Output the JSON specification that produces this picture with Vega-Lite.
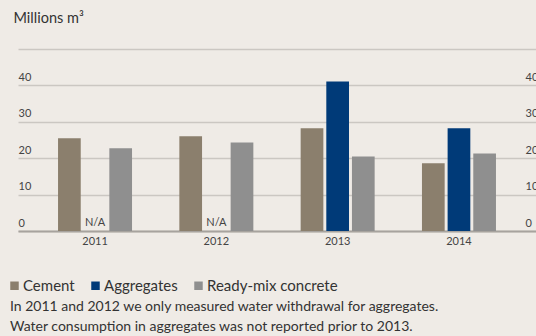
{
  "$schema": "https://vega.github.io/schema/vega-lite/v6.json",
  "width": 518,
  "height": 182,
  "autosize": {"type": "none"},
  "padding": {"left": 18, "top": 49, "right": 0, "bottom": 105},
  "background": "#efebe6",
  "config": {"view": {"stroke": null}, "font": "Lato"},
  "title": {
    "text": [
      "In 2011 and 2012 we only measured water withdrawal for aggregates.",
      "Water consumption in aggregates was not reported prior to 2013."
    ],
    "orient": "bottom",
    "anchor": "start",
    "frame": "group",
    "fontSize": 14,
    "fontWeight": "normal",
    "color": "#333333",
    "lineHeight": 20,
    "baseline": "top",
    "offset": 6,
    "dx": -8,
    "limit": 0
  },
  "data": {
    "values": [
      {"year": "2011", "type": "Cement", "value": 25.5},
      {"year": "2011", "type": "Aggregates", "value": null},
      {"year": "2011", "type": "Ready-mix concrete", "value": 22.7},
      {"year": "2012", "type": "Cement", "value": 26.0},
      {"year": "2012", "type": "Aggregates", "value": null},
      {"year": "2012", "type": "Ready-mix concrete", "value": 24.3},
      {"year": "2013", "type": "Cement", "value": 28.2},
      {"year": "2013", "type": "Aggregates", "value": 41.1},
      {"year": "2013", "type": "Ready-mix concrete", "value": 20.5},
      {"year": "2014", "type": "Cement", "value": 18.6},
      {"year": "2014", "type": "Aggregates", "value": 28.2},
      {"year": "2014", "type": "Ready-mix concrete", "value": 21.3}
    ]
  },
  "layer": [
    {
      "mark": {"type": "bar"},
      "encoding": {
        "x": {
          "field": "year",
          "type": "nominal",
          "scale": {"paddingInner": 0.39, "paddingOuter": 0.33},
          "axis": {
            "title": null,
            "labelAngle": 0,
            "labelFontSize": 11,
            "labelColor": "#444444",
            "labelPadding": 4,
            "ticks": false,
            "domainColor": "#a7a39e",
            "domainWidth": 2,
            "grid": false
          }
        },
        "xOffset": {
          "field": "type",
          "type": "nominal",
          "sort": ["Cement", "Aggregates", "Ready-mix concrete"],
          "scale": {"paddingInner": 0.115, "paddingOuter": 0}
        },
        "y": {
          "field": "value",
          "type": "quantitative",
          "scale": {"domain": [0, 50], "nice": false},
          "axis": {
            "title": "Millions m³",
            "titleAngle": 0,
            "titleAlign": "left",
            "titleBaseline": "alphabetic",
            "titleX": -5,
            "titleY": -27,
            "titleFontSize": 14.5,
            "titleFontWeight": "normal",
            "titleColor": "#333333",
            "orient": "left",
            "values": [0, 10, 20, 30, 40, 50],
            "labelExpr": "datum.value == 50 ? '' : datum.label",
            "grid": true,
            "gridColor": "#cbc7c2",
            "gridWidth": 1.5,
            "domain": false,
            "ticks": false,
            "tickSize": 0,
            "labelAlign": "left",
            "labelBaseline": "bottom",
            "labelPadding": 0,
            "labelOffset": -3,
            "labelFlush": false,
            "labelFontSize": 11,
            "labelColor": "#444444"
          }
        },
        "color": {
          "field": "type",
          "type": "nominal",
          "sort": ["Cement", "Aggregates", "Ready-mix concrete"],
          "scale": {
            "domain": ["Cement", "Aggregates", "Ready-mix concrete"],
            "range": ["#8b7f6d", "#003a78", "#8f8f8f"]
          },
          "legend": {
            "orient": "none",
            "legendX": -11,
            "legendY": 229,
            "direction": "horizontal",
            "title": null,
            "symbolType": "square",
            "symbolSize": 72,
            "symbolStrokeWidth": 0,
            "symbolOffset": 0,
            "labelFontSize": 15,
            "labelColor": "#333333",
            "labelOffset": 1,
            "columnPadding": 13
          }
        }
      }
    },
    {
      "transform": [{"filter": "datum.value == null"}],
      "mark": {"type": "text", "dy": -8, "fontSize": 11, "color": "#444444"},
      "encoding": {
        "x": {"field": "year", "type": "nominal"},
        "xOffset": {
          "field": "type",
          "type": "nominal",
          "sort": ["Cement", "Aggregates", "Ready-mix concrete"]
        },
        "y": {
          "datum": 0,
          "type": "quantitative",
          "axis": {
            "title": null,
            "orient": "right",
            "values": [0, 10, 20, 30, 40, 50],
            "labelExpr": "datum.value == 50 ? '' : datum.label",
            "grid": false,
            "domain": false,
            "ticks": false,
            "tickSize": 0,
            "labelAlign": "left",
            "labelBaseline": "bottom",
            "labelPadding": -11,
            "labelOffset": -3,
            "labelFlush": false,
            "labelFontSize": 11,
            "labelColor": "#444444"
          }
        },
        "text": {"value": "N/A"}
      }
    }
  ],
  "resolve": {"axis": {"y": "independent"}}
}
